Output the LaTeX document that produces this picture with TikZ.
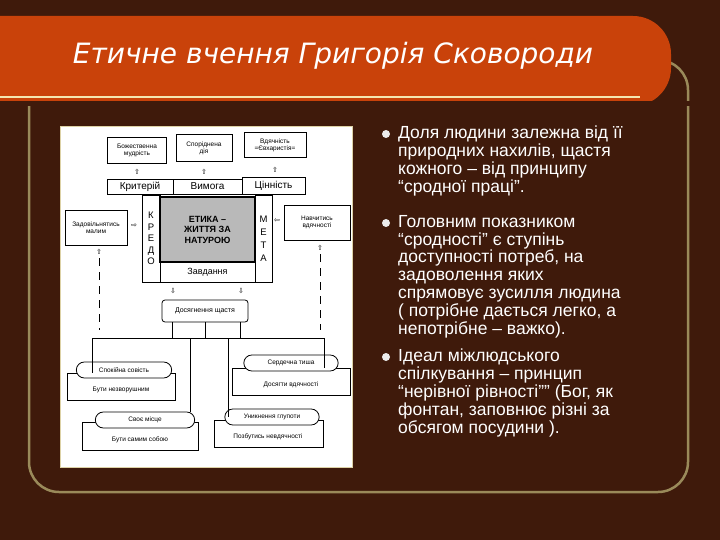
\documentclass[tikz,border=0pt]{standalone}
\usepackage{fontspec}
\setmainfont{Liberation Sans}
\newfontfamily\titlefont{DejaVu Sans}
\usetikzlibrary{shapes.misc}
\definecolor{bg}{HTML}{3F1A0B}
\definecolor{banner}{HTML}{C9420A}
\definecolor{olive}{HTML}{9A8A5A}
\definecolor{cream}{HTML}{F4E6B0}
\begin{document}
\begin{tikzpicture}[x=1pt,y=-1pt,
  bx/.style={draw=black,thick,fill=white,align=center,font=\fontsize{6.5}{7}\selectfont,inner sep=1pt},
  big/.style={draw=black,thick,fill=white,font=\fontsize{10}{11}\selectfont,inner sep=0pt},
  pill/.style={draw=black,thick,fill=white,rounded rectangle,font=\fontsize{6.5}{7}\selectfont},
  bul/.style={anchor=north west,text=white,font=\fontsize{17.5}{17.8}\selectfont,align=left,inner sep=0pt},
  arr/.style={font=\titlefont\fontsize{7}{7}\selectfont}]
\useasboundingbox (0,0) rectangle (720,540);
\clip (0,0) rectangle (720,540);
\fill[bg] (0,0) rectangle (720,540);
\draw[olive,line width=2.5pt,rounded corners=30pt] (29,60) rectangle (688,492);
\fill[banner,rounded corners=38pt] (-40,16) rectangle (671,106);
\fill[bg] (0,101) rectangle (720,106);
\fill[banner] (0,96) rectangle (650,101);
\draw[cream,line width=2pt] (0,97) -- (640,97);
\node[text=white,font=\titlefont\itshape\fontsize{28}{30}\selectfont] (title) at (333,56) {Етичне вчення Григорія Сковороди};
% picture
\fill[white] (60,127) rectangle (352,467);
\draw[cream!80!gray,line width=1pt] (60,127) rectangle (352,467);
\node[bx,minimum width=59pt,minimum height=26pt] (b1) at (137,150) {Божественна\\мудрість};
\node[bx,minimum width=56pt,minimum height=27pt] (b2) at (204,148) {Споріднена\\дія};
\node[bx,minimum width=62pt,minimum height=25pt] (b3) at (275,145) {Вдячність\\=Євхаристія=};
\node[big,minimum width=66pt,minimum height=15pt] (kr) at (140,187) {Критерій};
\node[big,minimum width=69pt,minimum height=15pt] (vy) at (207.5,186.5) {Вимога};
\node[big,minimum width=63pt,minimum height=17pt] (ts) at (273.5,185.5) {Цінність};
\node[draw,thick,fill=white,minimum width=18pt,minimum height=87pt,align=center,font=\fontsize{9.5}{11.5}\selectfont,inner sep=0pt] (kredo) at (151,238.5) {К\\Р\\Е\\Д\\О};
\node[draw,thick,fill=white,minimum width=17pt,minimum height=87pt,align=center,font=\fontsize{9.5}{13}\selectfont,inner sep=0pt] (meta) at (263.5,238.5) {М\\Е\\Т\\А};
\node[draw,line width=1.5pt,fill=gray!55,minimum width=95pt,minimum height=65pt,align=center,font=\bfseries\fontsize{9}{10.5}\selectfont,inner sep=0pt] (etika) at (207.5,229.5) {ЕТИКА –\\ЖИТТЯ ЗА\\НАТУРОЮ};
\node[big,minimum width=95pt,minimum height=20pt,font=\fontsize{9}{10}\selectfont] (zav) at (207.5,272) {Завдання};
\node[bx,minimum width=62pt,minimum height=35pt] (zm) at (96,227.5) {Задовільнятись\\малим};
\node[bx,minimum width=66pt,minimum height=35pt] (nv) at (317,222.5) {Навчитись\\вдячності};
\node[arr] (a1) at (137,172) {⇧}; \node[arr] (a2) at (204,172) {⇧}; \node[arr] (a3) at (275,170) {⇧};
\node[arr] (a4) at (134,226) {⇨}; \node[arr] (a5) at (277,221) {⇦};
\node[arr] (a6) at (99,252) {⇧}; \node[arr] (a7) at (320,248) {⇧};
\node[arr] (a8) at (173,291) {⇩}; \node[arr] (a9) at (241,291) {⇩};
\coordinate (dl) at (99,330); \coordinate (dr) at (320,330);
\draw[thick,dash pattern=on 8pt off 6pt] (a6.south) -- (dl);
\draw[thick,dash pattern=on 8pt off 6pt] (a7.south) -- (dr);
\node[bx,rounded corners=3pt,minimum width=86pt,minimum height=22pt,font=\fontsize{7}{8}\selectfont] (ds) at (205,311) {Досягнення щастя};
% bottom
\node[bx,minimum width=108pt,minimum height=27pt,anchor=north west] (r1) at (67,373) {};
\node[font=\fontsize{6.5}{7}\selectfont] (l1) at (121,390) {Бути незворушним};
\node[pill,minimum width=102pt,minimum height=16pt] (p1) at (124,370) {Спокійна совість};
\node[bx,minimum width=118pt,minimum height=27pt,anchor=north west] (r2) at (232,368) {};
\node[font=\fontsize{6.5}{7}\selectfont] (l2) at (291,385) {Досягти вдячності};
\node[pill,minimum width=101pt,minimum height=16pt] (p2) at (291,363) {Сердечна тиша};
\node[bx,minimum width=116pt,minimum height=28pt,anchor=north west] (r3) at (82,422) {};
\node[font=\fontsize{6.5}{7}\selectfont] (l3) at (140,440) {Бути самим собою};
\node[pill,minimum width=106pt,minimum height=16pt] (p3) at (145,420) {Своє місце};
\node[bx,minimum width=109pt,minimum height=27pt,anchor=north west] (r4) at (214,420) {};
\node[font=\fontsize{6.5}{7}\selectfont] (l4) at (268,437) {Позбутись невдячності};
\node[pill,minimum width=101pt,minimum height=16pt] (p4) at (272,417) {Уникнення глупоти};
\coordinate (h1) at (92,338); \coordinate (h2) at (190,338); \coordinate (h3) at (228,338); \coordinate (h4) at (324,338);
\draw[thick] (ds.south -| 172,0) -- (172,338) (ds.south) -- (205,338) (ds.south -| 240,0) -- (240,338);
\draw[thick] (h1) -- (h4);
\draw[thick] (h1) -- (h1 |- r1.north);
\draw[thick] (h2) -- (h2 |- p3.north);
\draw[thick] (h3) -- (h3 |- p4.west);
\draw[thick] (h4) -- (h4 |- r2.north);
% bullets
\foreach \y in {133,222,356} \fill[white!85!gray] (386,\y+1) circle (4pt);
\node[bul] (t1) at (398,126) {Доля людини залежна від її\\природних нахилів, щастя\\кожного – від принципу\\“сродної праці”.};
\node[bul] (t2) at (398,215) {Головним показником\\“сродності” є ступінь\\доступності потреб, на\\задоволення яких\\спрямовує зусилля людина\\( потрібне дається легко, а\\непотрібне – важко).};
\node[bul] (t3) at (398,349) {Ідеал міжлюдського\\спілкування – принцип\\“нерівної рівності”” (Бог, як\\фонтан, заповнює різні за\\обсягом посудини ).};
\end{tikzpicture}
\end{document}
